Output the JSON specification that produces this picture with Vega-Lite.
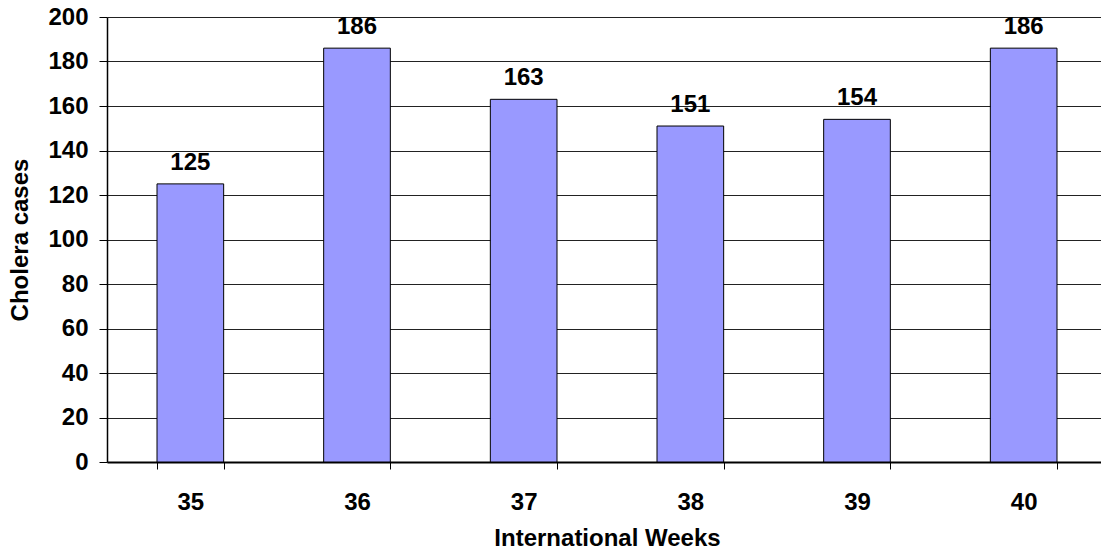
{
  "$schema": "https://vega.github.io/schema/vega-lite/v6.json",
  "autosize": "none",
  "padding": {"left": 107, "top": 17, "right": 0, "bottom": 93},
  "width": 1000,
  "height": 445,
  "background": "white",
  "config": {
    "view": {"stroke": null},
    "font": "Liberation Sans"
  },
  "data": {
    "values": [
      {"week": "35", "cases": 125},
      {"week": "36", "cases": 186},
      {"week": "37", "cases": 163},
      {"week": "38", "cases": 151},
      {"week": "39", "cases": 154},
      {"week": "40", "cases": 186}
    ]
  },
  "encoding": {
    "x": {
      "field": "week",
      "type": "ordinal",
      "sort": null,
      "scale": {"paddingInner": 0.6, "paddingOuter": 0.3},
      "axis": {
        "title": "International Weeks",
        "labelAngle": 0,
        "labelFont": "Liberation Sans",
        "labelFontSize": 24,
        "labelFontWeight": "bold",
        "labelColor": "black",
        "labelPadding": 21,
        "tickBand": "extent",
        "tickColor": "black",
        "tickSize": 7,
        "tickWidth": 1,
        "domainColor": "black",
        "domainWidth": 2,
        "titleFont": "Liberation Sans",
        "titleFontSize": 24,
        "titleFontWeight": "bold",
        "titleColor": "black",
        "titlePadding": 12
      }
    },
    "y": {
      "field": "cases",
      "type": "quantitative",
      "scale": {"domain": [0, 200], "nice": false},
      "axis": {
        "title": "Cholera cases",
        "values": [0, 20, 40, 60, 80, 100, 120, 140, 160, 180, 200],
        "labelFont": "Liberation Sans",
        "labelFontSize": 24,
        "labelFontWeight": "bold",
        "labelColor": "black",
        "labelPadding": 11,
        "tickColor": "black",
        "tickSize": 8,
        "gridColor": "#222222",
        "gridWidth": 1,
        "gridOpacity": 1,
        "domainColor": "black",
        "domainWidth": 1.5,
        "titleFont": "Liberation Sans",
        "titleFontSize": 24,
        "titleFontWeight": "bold",
        "titleColor": "black",
        "titlePadding": 15
      }
    }
  },
  "layer": [
    {
      "mark": {"type": "bar", "color": "#9999FF", "stroke": "black", "strokeWidth": 1}
    },
    {
      "mark": {"type": "text", "baseline": "alphabetic", "dy": -14, "font": "Liberation Sans", "fontSize": 24, "fontWeight": "bold", "color": "black"},
      "encoding": {"text": {"field": "cases", "type": "quantitative"}}
    }
  ]
}
